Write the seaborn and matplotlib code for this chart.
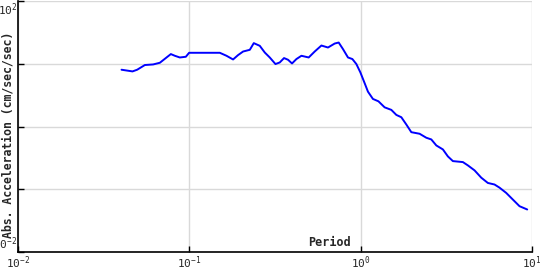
import matplotlib
matplotlib.use("Agg")
import matplotlib.pyplot as plt
import seaborn as sns
import pandas as pd

period = [0.0402, 0.0466, 0.0496, 0.0550, 0.0615, 0.0673, 0.0720, 0.0780, 0.0823, 0.0880,
          0.0954, 0.0997, 0.1506, 0.1648, 0.1800, 0.1925, 0.2060, 0.2254, 0.2378, 0.2577,
          0.2756, 0.2947, 0.3182, 0.3371, 0.3571, 0.3768, 0.3975, 0.4217, 0.4510, 0.4974,
          0.5393, 0.5900, 0.6446, 0.7054, 0.7443, 0.7885, 0.8433, 0.8946, 0.9438, 0.9961,
          1.055, 1.103, 1.179, 1.270, 1.380, 1.510, 1.615, 1.727, 1.847, 1.975,
          2.208, 2.416, 2.584, 2.764, 3.020, 3.228, 3.453, 3.950, 4.224, 4.620,
          5.055, 5.525, 6.043, 6.464, 7.072, 7.727, 8.455, 9.376]
accel = [8.03, 7.55, 8.03, 9.54, 9.75, 10.37, 12.0, 14.26, 13.40, 12.59,
         12.92, 14.95, 14.95, 13.40, 11.70, 13.74, 15.67, 16.68, 21.31, 19.31,
         15.11, 12.59, 9.89, 10.49, 12.32, 11.57, 10.11, 11.88, 13.40, 12.59,
         15.67, 19.52, 18.14, 21.00, 21.78, 17.12, 12.59, 11.88, 9.89, 7.28,
         4.90, 3.59, 2.75, 2.52, 2.02, 1.84, 1.53, 1.405, 1.076, 0.812,
         0.766, 0.662, 0.622, 0.499, 0.431, 0.334, 0.281, 0.271, 0.240, 0.200,
         0.153, 0.126, 0.119, 0.106, 0.0874, 0.0686, 0.0537, 0.0476]

xticks = [1e-2, 1e-1, 1e0, 1e1]
xtick_labels = ["$10^{-2}$", "$10^{-1}$", "$10^{0}$", "$10^{1}$"]
yticks = [1e-2, 1e-1, 1e0, 1e1, 1e2]
ytick_labels = ["$10^{-2}$", "", "", "", "$10^{2}$"]

sns.set_theme(style="white")
plt.rcParams["font.family"] = ["DejaVu Sans Mono", "DejaVu Sans"]
plt.rcParams["mathtext.fontset"] = "custom"
plt.rcParams["mathtext.rm"] = "DejaVu Sans Mono"
plt.rcParams["mathtext.it"] = "DejaVu Sans Mono"

df = pd.DataFrame({"Period": period, "Accel": accel})

fig = plt.figure(figsize=(5.4, 2.7), dpi=100)
ax = fig.add_axes([18/540, 1 - 252/270, (532 - 18)/540, 251/270])

sns.lineplot(data=df, x="Period", y="Accel", ax=ax, color="#0000ff", linewidth=1.4, sort=False)
ax.set_xscale("log")
ax.set_yscale("log")
ax.set_xlim(1e-2, 1e1)
ax.set_ylim(1e-2, 1e2)

ax.set_xticks(xticks)
ax.set_xticklabels(xtick_labels)
ax.set_yticks(yticks)
ax.set_yticklabels(ytick_labels)
ax.minorticks_off()
ax.tick_params(axis="both", which="major", direction="in", length=4, width=1,
               color="black", labelsize=8, pad=1.5, left=True, bottom=True)
ax.tick_params(axis="y", pad=0.3)
ylabs = ax.get_yticklabels()
ylabs[0].set_va("bottom")
ylabs[-1].set_va("top")

ax.grid(True, which="major", color="#d9d9d9", linewidth=1)
ax.set_axisbelow(True)
for s in ["top", "right"]:
    ax.spines[s].set_visible(False)
for s in ["left", "bottom"]:
    ax.spines[s].set_color("black")
    ax.spines[s].set_linewidth(1.2)

ax.set_xlabel("")
ax.set_ylabel("Abs. Acceleration (cm/sec/sec)", fontsize=8.3, fontweight="bold")
ax.yaxis.label.set_verticalalignment("center")
ax.yaxis.set_label_coords(-0.0195, 0.466)
ax.text(0.607, 0.012, "Period", transform=ax.transAxes, ha="center", va="bottom",
        fontsize=8.5, fontweight="bold")

fig.savefig("out.png", dpi=100)
